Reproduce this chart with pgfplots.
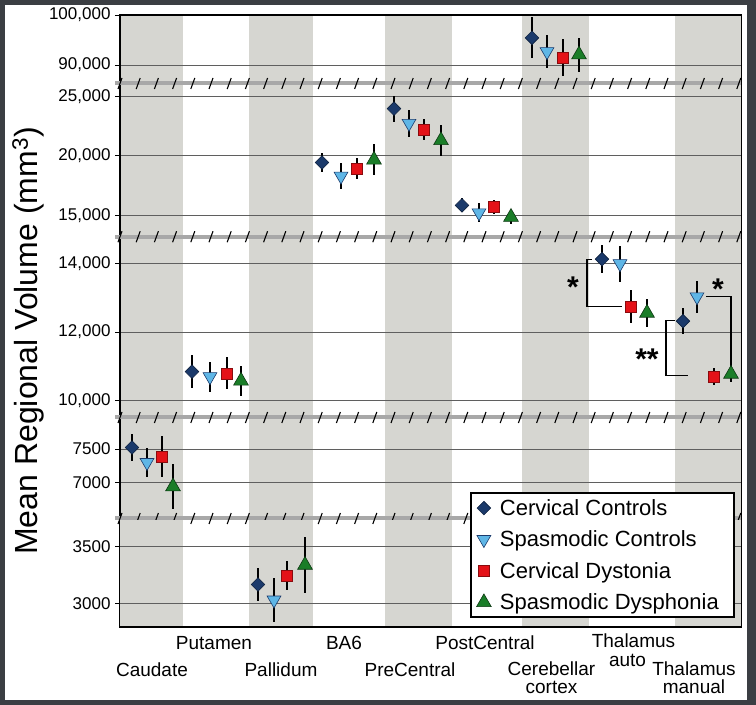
\documentclass[border=0pt]{standalone}
\usepackage{pgfplots}
\pgfplotsset{compat=1.18}
\usepackage{pgfplotstable}
\usepackage{fontspec}
\setmainfont{Liberation Sans}

\definecolor{framec}{RGB}{59,62,67}
\definecolor{bandc}{RGB}{214,214,209}
\definecolor{gridc}{RGB}{95,95,95}
\definecolor{breakc}{RGB}{168,168,168}
\definecolor{ccol}{RGB}{27,58,107}
\definecolor{scol}{RGB}{95,182,230}
\definecolor{dcol}{RGB}{228,18,24}
\definecolor{gcol}{RGB}{26,125,40}

% panel tables: x position, mean, error for each of the four groups
\pgfplotstableread{
cat xcc ycc ecc xsc ysc esc xcd ycd ecd xsd ysd esd
Cerebellar 532 95430 4100 547 92670 3330 563 91470 3670 579 92070 3400
}\panelA
\pgfplotstableread{
cat xcc ycc ecc xsc ysc esc xcd ycd ecd xsd ysd esd
BA6 322 19435 815 341 18290 1120 357 18935 865 374 19660 1290
PreCentral 394 23960 1090 409 22730 1120 424 22200 870 441 21290 1300
PostCentral 462 15840 590 479 15210 800 494 15690 600 511 14850 590
}\panelB
\pgfplotstableread{
cat xcc ycc ecc xsc ysc esc xcd ycd ecd xsd ysd esd
Putamen 192 10838 487 210 10691 439 227 10790 468 241 10570 435
ThalamusAuto 602 14133 414 620 14000 527 631 12750 480 647 12557 400
ThalamusManual 683 12318 375 697 13030 464 714 10692 245 731 10770 220
}\panelC
\pgfplotstableread{
cat xcc ycc ecc xsc ysc esc xcd ycd ecd xsd ysd esd
Caudate 132 7522 198 147 7300 220 162 7387 307 173 6942 337
}\panelD
\pgfplotstableread{
cat xcc ycc ecc xsc ysc esc xcd ycd ecd xsd ysd esd
Pallidum 258 3168 142 274 3032 190 287 3248 128 305 3339 243
}\panelE

\newcommand\band[4]{\addplot[fill=bandc, draw=none, forget plot] coordinates {(#1,#3)(#2,#3)(#2,#4)(#1,#4)};}
\newcommand\bands[2]{\band{120}{183}{#1}{#2}\band{249}{313}{#1}{#2}\band{385}{452}{#1}{#2}\band{522}{589}{#1}{#2}\band{675}{741}{#1}{#2}}
\newcommand\hgrid[1]{\addplot[gridc, line width=0.8pt, forget plot] coordinates {(120,#1)(741,#1)};}

\newcommand\series[1]{%
\addplot[ccs] table[x=xcc,y=ycc,y error=ecc]{#1};
\addplot[scs] table[x=xsc,y=ysc,y error=esc]{#1};
\addplot[cds] table[x=xcd,y=ycd,y error=ecd]{#1};
\addplot[sds] table[x=xsd,y=ysd,y error=esd]{#1};
}

\pgfplotsset{
  panel/.style={scale only axis, width=621pt, xmin=120, xmax=741, xtick=\empty,
    axis line style={draw=none},
    ytick pos=left, tick align=outside, major tick length=5pt,
    tick style={black, line width=0.8pt},
    scaled y ticks=false,
    yticklabel={\pgfmathprintnumber[assume math mode=true, fixed, 1000 sep={,}]{\tick}},
    yticklabel style={font=\fontsize{17}{20}\selectfont, xshift=-1pt},
  },
  eb/.style={error bars/y dir=both, error bars/y explicit, error bars/error mark=none,
    error bars/error bar style={black, line width=1.6pt}},
  ccs/.style={only marks, mark=square*, mark size=4.8pt,
    mark options={rotate=45, fill=ccol, draw=ccol!60!black, line width=0.6pt}, eb},
  scs/.style={only marks, mark=triangle*, mark size=8pt,
    mark options={rotate=180, fill=scol, draw=ccol, line width=0.6pt}, eb},
  cds/.style={only marks, mark=square*, mark size=5.5pt,
    mark options={fill=dcol, draw=dcol!60!black, line width=0.6pt}, eb},
  sds/.style={only marks, mark=triangle*, mark size=8.5pt,
    mark options={fill=gcol, draw=gcol!45!black, line width=0.6pt}, eb},
}

\begin{document}
\begin{tikzpicture}[x=1pt,y=1pt]
% frame
\fill[framec] (0,0) rectangle (756,705);
\fill[white] (5,5) rectangle (746.5,700);

% Panel 1 (top)
\begin{axis}[panel, at={(120pt,623pt)}, anchor=south west, height=67pt,
  ymin=86600, ymax=100000, ytick={90000,100000}]
\bands{86600}{100000}
\hgrid{90000}
\series{\panelA}
\end{axis}

% Panel 2
\begin{axis}[panel, at={(120pt,470pt)}, anchor=south west, height=150pt,
  ymin=13345, ymax=25949, ytick={15000,20000,25000}]
\bands{13345}{25949}
\hgrid{15000}\hgrid{20000}\hgrid{25000}
\series{\panelB}
\end{axis}

% Panel 3
\begin{axis}[panel, at={(120pt,289pt)}, anchor=south west, height=178pt,
  ymin=9540, ymax=14752, ytick={10000,12000,14000}]
\bands{9540}{14752}
\hgrid{10000}\hgrid{12000}\hgrid{14000}
\series{\panelC}
\draw[black, line width=1.2pt] (axis cs:592,14129) -- (axis cs:587,14129) -- (axis cs:587,12741) -- (axis cs:622,12741);
\draw[black, line width=1.2pt] (axis cs:675,12331) -- (axis cs:666,12331) -- (axis cs:666,10721) -- (axis cs:688,10721);
\draw[black, line width=1.2pt] (axis cs:706,13034) -- (axis cs:731,13034) -- (axis cs:731,10888);
\node[font=\fontsize{30}{30}\selectfont\bfseries, inner sep=0pt] at (axis cs:573,13300) {*};
\node[font=\fontsize{30}{30}\selectfont\bfseries, inner sep=0pt] at (axis cs:647,11200) {**};
\node[font=\fontsize{30}{30}\selectfont\bfseries, inner sep=0pt] at (axis cs:718,13240) {*};
\end{axis}

% Panel 4
\begin{axis}[panel, at={(120pt,188pt)}, anchor=south west, height=98pt,
  ymin=6491, ymax=7945, ytick={7000,7500},
  yticklabel={\pgfmathprintnumber[assume math mode=true, fixed, 1000 sep={}]{\tick}}]
\bands{6491}{7945}
\hgrid{7000}\hgrid{7500}
\series{\panelD}
\end{axis}

% axis frame lines
\draw[black, line width=2pt] (120,690) -- (120,77.5);
\draw[black, line width=1.4pt] (119,690) -- (741.5,690);
\draw[black, line width=1pt] (741.5,690) -- (741.5,77.5);

% axis breaks
\foreach \yb in {621.5, 468.3, 287.5, 186.5} {
  \draw[breakc, line width=4pt] (115,\yb) -- (741,\yb);
  \foreach \k in {0,...,34} {
    \draw[black, line width=1.1pt] ({120+18.2*\k-2},\yb-5.5) -- ({120+18.2*\k+2},\yb+5.5);
  }
}

% Panel 5 (bottom) with legend
\begin{axis}[panel, at={(120pt,77.5pt)}, anchor=south west, height=107.5pt,
  ymin=2791, ymax=3734, ytick={3000,3500},
  yticklabel={\pgfmathprintnumber[assume math mode=true, fixed, 1000 sep={}]{\tick}},
  legend style={at={(axis cs:470,2874)}, anchor=south west, draw=black, line width=1.8pt,
    fill=white, font=\fontsize{22}{25}\selectfont, inner xsep=4pt, inner ysep=4pt,
    row sep=10pt, nodes={inner xsep=3pt}},
  legend cell align=left,
  legend image code/.code={\path[draw=none, fill=none] (0pt,-6pt) rectangle (22pt,6pt); \draw[#1] plot coordinates {(9pt,0pt)};}]
\bands{2791}{3734}
\hgrid{3000}\hgrid{3500}
\series{\panelE}
\addlegendentry{Cervical Controls}
\addlegendentry{Spasmodic Controls}
\addlegendentry{Cervical Dystonia}
\addlegendentry{Spasmodic Dysphonia\kern8pt}
\end{axis}
\draw[black, line width=2pt] (119,77.5) -- (742,77.5);

% y label
\node[rotate=90, anchor=base, inner sep=0pt, font=\fontsize{32}{32}\selectfont] at (37,364) {Mean Regional Volume (mm\textsuperscript{3})};

% category labels
\begin{scope}[every node/.style={anchor=base, inner sep=0pt, font=\fontsize{19}{21}\selectfont}]
\node at (152,28.3) {Caudate};
\node at (214,55.7) {Putamen};
\node at (281,28.3) {Pallidum};
\node at (344,55.7) {BA6};
\node at (410,28.3) {PreCentral};
\node at (485,55.7) {PostCentral};
\node at (551.5,29) {Cerebellar};
\node at (551.5,11) {cortex};
\node at (633.5,57.5) {Thalamus};
\node at (627.5,38.5) {auto};
\node at (694,29) {Thalamus};
\node at (694,11) {manual};
\end{scope}
\end{tikzpicture}
\end{document}
